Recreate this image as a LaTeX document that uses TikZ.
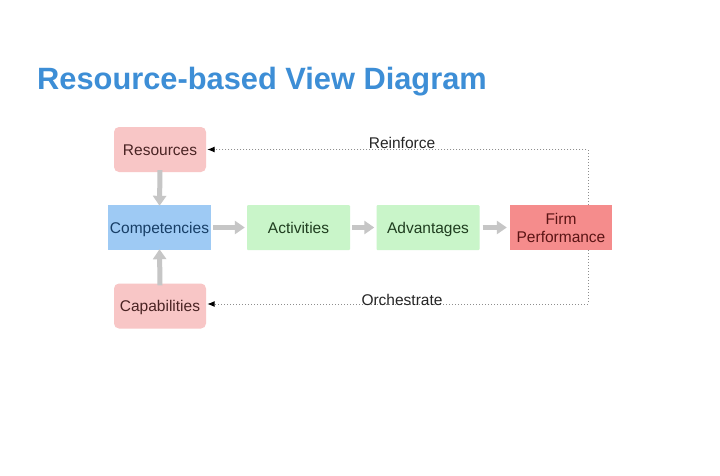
\documentclass[tikz,border=0pt]{standalone}
\usepackage{fontspec}
\setmainfont{Liberation Sans}
\usetikzlibrary{arrows.meta,positioning}
\definecolor{titleblue}{HTML}{3D8ED6}
\definecolor{pinkfill}{HTML}{F8C6C6}
\definecolor{bluefill}{HTML}{9ECAF4}
\definecolor{greenfill}{HTML}{C9F5C9}
\definecolor{redfill}{HTML}{F58C8C}
\definecolor{arrowgray}{HTML}{C6C6C6}
\definecolor{dotgray}{HTML}{8E8E8E}
\definecolor{pinktext}{HTML}{4A2424}
\definecolor{bluetext}{HTML}{173E66}
\definecolor{greentext}{HTML}{1F3D1F}
\definecolor{redtext}{HTML}{5A1414}
\tikzset{
  box/.style={minimum height=45pt, inner sep=2pt, align=center, font=\fontsize{15.5}{18}\selectfont},
  onebox/.style={box, text height=14.5pt, text depth=3.3pt},
  pinkbox/.style={onebox, fill=pinkfill, rounded corners=5pt, minimum width=92pt, text=pinktext},
  bluebox/.style={onebox, fill=bluefill, minimum width=103pt, text=bluetext},
  greenbox/.style={onebox, fill=greenfill, rounded corners=1pt, minimum width=103pt, text=greentext},
  redbox/.style={box, fill=redfill, minimum width=102pt, text=redtext},
  bigarrow/.style={draw=arrowgray, line width=5pt, -{Triangle[length=10pt,width=13pt]}},
  feedback/.style={draw=dotgray, dotted, line width=1pt, -{Latex[black,length=7.5pt,width=6pt]}},
  lbl/.style={font=\fontsize{15.5}{18}\selectfont, inner sep=1pt, text=black!85}
}
\begin{document}
\begin{tikzpicture}[x=1pt,y=-1pt]
\useasboundingbox[fill=white] (0,0) rectangle (720,475);
\node[anchor=base west, inner sep=0pt, text=titleblue, font=\fontsize{30.8}{34}\selectfont\bfseries] (title) at (37,89.5) {Resource-based View Diagram};
\node[pinkbox] (res) at (160,149.5) {Resources};
\node[bluebox] (comp) at (159.5,227.5) {Competencies};
\node[pinkbox] (cap) at (160,306) {Capabilities};
\node[greenbox] (act) at (298.5,227.5) {Activities};
\node[greenbox] (adv) at (428,227.5) {Advantages};
\node[redbox] (firm) at (561,227.5) {Firm\\Performance};
\draw[bigarrow] ([yshift=2pt]res.south) -- ([yshift=-1pt]comp.north);
\draw[bigarrow] ([yshift=-2pt]cap.north) -- ([yshift=1pt]comp.south);
\draw[bigarrow] ([xshift=2pt]comp.east) -- ([xshift=-2pt]act.west);
\draw[bigarrow] ([xshift=2pt]act.east) -- ([xshift=-2pt]adv.west);
\draw[bigarrow] ([xshift=3pt]adv.east) -- ([xshift=-3pt]firm.west);
\draw[feedback] ([xshift=27pt]firm.north) |- ([xshift=1pt]res.east);
\draw[feedback] ([xshift=27pt]firm.south) |- ([xshift=1pt,yshift=2pt]cap.east);
\node[lbl] (reinf) at (402,142.5) {Reinforce};
\node[lbl] (orch) at (402,300) {Orchestrate};
\end{tikzpicture}
\end{document}
